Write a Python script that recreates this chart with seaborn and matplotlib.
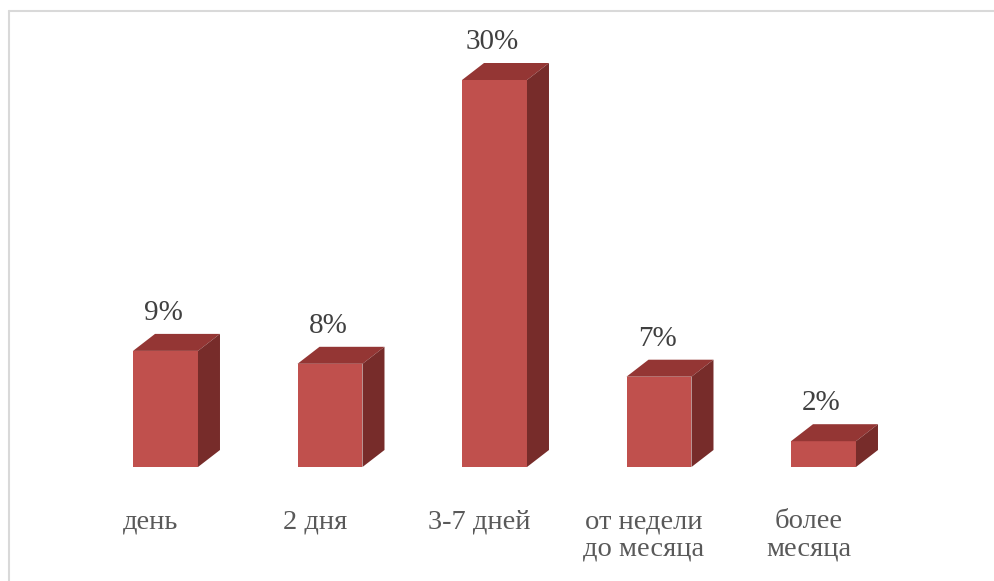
import matplotlib
matplotlib.use("Agg")
import matplotlib.pyplot as plt
from matplotlib.patches import Polygon
from matplotlib.lines import Line2D
from matplotlib.transforms import offset_copy
import seaborn as sns
import pandas as pd

categories = ["день", "2 дня", "3-7 дней", "от недели\nдо месяца", "более\nмесяца"]
values = [9, 8, 30, 7, 2]
value_labels = ["9%", "8%", "30%", "7%", "2%"]

FRONT = "#C0504D"
TOP = "#943634"
SIDE = "#772C2A"

sns.set_theme(style="white")
plt.rcParams["font.family"] = ["Liberation Serif", "DejaVu Serif"]

W, H = 994, 581
fig = plt.figure(figsize=(W / 100, H / 100), dpi=100)
fig.patch.set_facecolor("white")

px_per_x = 164.5
px_per_y = 12.9
ymax = 33
left_px = 165.5 - 0.5 * px_per_x
bottom_px = H - 467
ax = fig.add_axes([left_px / W, bottom_px / H, 5 * px_per_x / W, ymax * px_per_y / H])

df = pd.DataFrame({"cat": categories, "val": values})
sns.barplot(data=df, x="cat", y="val", color=FRONT, saturation=1, width=0.395,
            ax=ax, edgecolor="none", linewidth=0)
ax.set_xlim(-0.5, 4.5)
ax.set_ylim(0, ymax)
ax.axis("off")

dxd = 22 / px_per_x
dyd = 17 / px_per_y
for p in ax.patches[:len(values)]:
    x0, w, h = p.get_x(), p.get_width(), p.get_height()
    top = Polygon([(x0, h), (x0 + w, h), (x0 + w + dxd, h + dyd), (x0 + dxd, h + dyd)],
                  closed=True, facecolor=TOP, edgecolor="none", clip_on=False)
    side = Polygon([(x0 + w, 0), (x0 + w + dxd, dyd), (x0 + w + dxd, h + dyd), (x0 + w, h)],
                   closed=True, facecolor=SIDE, edgecolor="none", clip_on=False)
    ax.add_patch(top)
    ax.add_patch(side)

val_tr = offset_copy(ax.transData, fig=fig, x=-2, y=31, units="dots")
for i, (v, lab) in enumerate(zip(values, value_labels)):
    ax.text(i, v, lab, ha="center", va="baseline", fontsize=21, color="#404040",
            fontfamily="Liberation Serif", transform=val_tr, clip_on=False)

cat_tr = offset_copy(ax.transData, fig=fig, x=-15, y=-42, units="dots")
for i, c in enumerate(categories):
    ax.text(i, 0, c, ha="center", va="top", fontsize=20.5, color="#595959",
            fontfamily="Liberation Serif", linespacing=1.12, transform=cat_tr,
            clip_on=False)

# chart border (top and left edges visible)
fig.add_artist(Line2D([9 / W, 9 / W], [0, 1 - 11 / H], transform=fig.transFigure,
                      color="#d9d9d9", linewidth=1.5))
fig.add_artist(Line2D([9 / W, 1], [1 - 11 / H, 1 - 11 / H], transform=fig.transFigure,
                      color="#d9d9d9", linewidth=1.5))

fig.savefig("out.png", dpi=100, facecolor="white")
